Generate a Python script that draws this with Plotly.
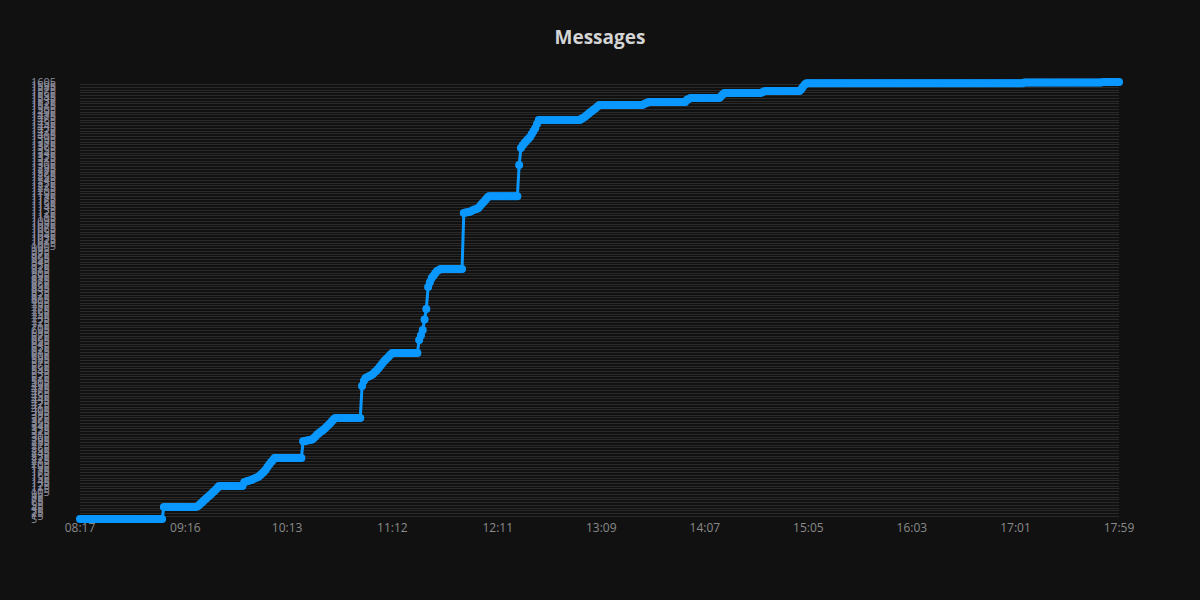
import pandas as pd
import plotly.graph_objects as go

# Running total of messages: the clock time at which the
# total changes and the total from that minute on
change_times = [
    "08:17", "09:04",
    "09:23", "09:24", "09:25", "09:26", "09:27", "09:28", "09:29", "09:30",
    "09:31", "09:32", "09:33", "09:34", "09:35",
    "09:49", "09:50", "09:51", "09:52", "09:53", "09:54", "09:55", "09:56",
    "09:57", "09:58", "09:59", "10:00", "10:01", "10:02", "10:03", "10:04",
    "10:05", "10:06",
    "10:22", "10:24", "10:25", "10:26", "10:27", "10:28", "10:29", "10:30",
    "10:31", "10:32", "10:33", "10:34", "10:35", "10:36", "10:37", "10:38",
    "10:39", "10:40",
    "10:55", "10:56", "10:57", "10:58", "10:59", "11:00", "11:01", "11:02",
    "11:03", "11:04", "11:05", "11:06", "11:07", "11:08", "11:09", "11:10",
    "11:11", "11:12",
    "11:27", "11:28", "11:29", "11:30", "11:31", "11:32", "11:33", "11:34",
    "11:35", "11:36", "11:37", "11:38", "11:39",
    "11:52", "11:53", "11:54", "11:55", "11:56", "11:57", "11:58", "11:59",
    "12:00", "12:01", "12:02", "12:03", "12:04", "12:05", "12:06",
    "12:23", "12:24", "12:25", "12:26", "12:27", "12:28", "12:29", "12:30",
    "12:31", "12:32", "12:33", "12:34",
    "12:58", "12:59", "13:00", "13:01", "13:02", "13:03", "13:04", "13:05",
    "13:06", "13:07", "13:08",
    "13:33", "13:34", "13:35", "13:36",
    "13:57", "13:58", "13:59",
    "14:16", "14:17", "14:18",
    "14:39", "14:40", "14:41",
    "15:01", "15:02", "15:03", "15:04",
    "17:06", "17:50",
]
change_counts = [
    5, 49,
    52, 58, 64, 70, 76, 82, 88, 93,
    100, 106, 112, 119, 126,
    140, 142, 144, 146, 148, 151, 154, 157,
    160, 166, 172, 178, 185, 195, 205, 213,
    220, 228,
    290, 292, 293, 294, 296, 302, 308, 315,
    320, 325, 330, 335, 342, 348, 355, 362,
    369, 375,
    492, 510, 521, 525, 528, 531, 535, 542,
    548, 555, 563, 572, 580, 587, 594, 600,
    607, 613,
    660, 678, 697, 735, 774, 854, 872, 887,
    896, 905, 913, 917, 920,
    1125, 1127, 1128, 1129, 1132, 1135, 1138, 1140,
    1143, 1150, 1158, 1165, 1172, 1180, 1187,
    1301, 1363, 1373, 1382, 1389, 1396, 1403, 1414,
    1425, 1436, 1451, 1466,
    1470, 1474, 1479, 1484, 1490, 1495, 1500, 1505,
    1510, 1516, 1521,
    1524, 1527, 1530, 1532,
    1540, 1543, 1546,
    1552, 1559, 1565,
    1567, 1570, 1572,
    1578, 1588, 1596, 1600,
    1603, 1605,
]

x_labels = ["08:17", "09:16", "10:13", "11:12", "12:11", "13:09",
            "14:07", "15:05", "16:03", "17:01", "17:59"]

DAY = "2024-01-01 "
LINE_BLUE = "#0a98ff"
BG = "#111111"

# one sample per minute, holding the last known total
minutes = pd.date_range(DAY + "08:17", DAY + "17:59", freq="min")
steps = pd.Series(change_counts, index=pd.to_datetime([DAY + t for t in change_times]))
total = steps.reindex(minutes, method="ffill")

fig = go.Figure()
fig.add_trace(go.Scatter(
    x=minutes, y=total.values,
    mode="lines+markers",
    line=dict(color=LINE_BLUE, width=3),
    marker=dict(color=LINE_BLUE, size=8),
    cliponaxis=False,
    name="Messages",
    hovertemplate="%{x|%H:%M}: %{y}<extra></extra>",
))

left_px, plot_left_px, right_px = 30, 80, 81
plot_w = 1200 - left_px - right_px

fig.update_layout(
    width=1200, height=600,
    paper_bgcolor=BG, plot_bgcolor=BG,
    margin=dict(l=left_px, r=right_px, t=82, b=81),
    showlegend=False,
    font=dict(family="Open Sans, sans-serif", color="#888888", size=11),
    title=dict(text="<b>Messages</b>", x=0.5, xref="container", xanchor="center",
               y=1 - 37 / 600, yanchor="middle",
               font=dict(size=19, color="#d4d4d4", family="Open Sans, sans-serif")),
    xaxis=dict(
        domain=[(plot_left_px - left_px) / plot_w, 1],
        type="date",
        range=[DAY + x_labels[0], DAY + x_labels[-1]],
        tickvals=[DAY + t for t in x_labels],
        ticktext=x_labels,
        showgrid=False, zeroline=False, showline=False,
        tickfont=dict(size=12, color="#8a8a8a"),
        ticks="",
    ),
    # labels sit on the right of a free axis at the far left, so they read left-aligned
    yaxis=dict(
        range=[change_counts[0], change_counts[-1]],
        tick0=change_counts[0], dtick=10,
        anchor="free", position=0, side="right",
        showgrid=True, gridcolor="#2a2a2a", gridwidth=1,
        zeroline=False, showline=False, ticks="",
        tickfont=dict(size=11, color="#8a8a9a"),
    ),
)

fig.write_html("out.html", config={"displayModeBar": False},
               post_script="document.body.style.margin='0';"
                           "document.body.style.background='" + BG + "';")
